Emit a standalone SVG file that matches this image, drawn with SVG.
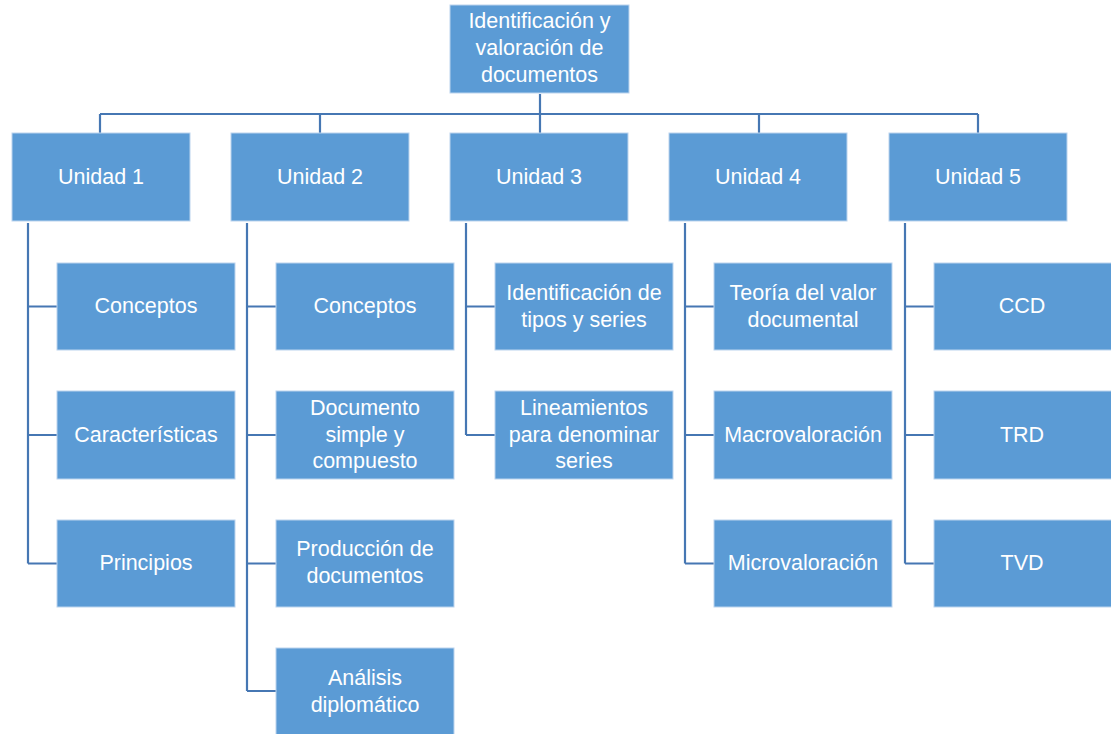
<svg xmlns="http://www.w3.org/2000/svg" width="1111" height="734" viewBox="0 0 1111 734">
<style>
.box{fill:#5b9bd5;stroke:#bcd4ee;stroke-width:1}
.t{font-family:"Liberation Sans",Arial,sans-serif;font-size:21.5px;fill:#ffffff;text-anchor:middle;dominant-baseline:central}
.c{fill:none;stroke:#4677b3;stroke-width:2.2}
</style>
<rect width="1111" height="734" fill="#ffffff"/>
<g id="connectors" class="c">
<path d="M540 94V114M100 114H978M100 114V133M320 114V133M540 114V133M759 114V133M978 114V133"/>
<path d="M28 223V563.5M28 306.5H57M28 435H57M28 563.5H57"/>
<path d="M247 223V691M247 306.5H276M247 435H276M247 563.5H276M247 691H276"/>
<path d="M466 223V435M466 306.5H495M466 435H495"/>
<path d="M685 223V563.5M685 306.5H714M685 435H714M685 563.5H714"/>
<path d="M905 223V563.5M905 306.5H934M905 435H934M905 563.5H934"/>
</g>
<g id="root"><rect class="box" x="450" y="5" width="179" height="88"/><text class="t" x="539.5" y="21">Identificación y</text><text class="t" x="539.5" y="48">valoración de</text><text class="t" x="539.5" y="75">documentos</text></g>
<g id="u1"><rect class="box" x="12" y="133" width="178" height="88"/><text class="t" x="101" y="177">Unidad 1</text></g>
<g id="u2"><rect class="box" x="231" y="133" width="178" height="88"/><text class="t" x="320" y="177">Unidad 2</text></g>
<g id="u3"><rect class="box" x="450" y="133" width="178" height="88"/><text class="t" x="539" y="177">Unidad 3</text></g>
<g id="u4"><rect class="box" x="669" y="133" width="178" height="88"/><text class="t" x="758" y="177">Unidad 4</text></g>
<g id="u5"><rect class="box" x="889" y="133" width="178" height="88"/><text class="t" x="978" y="177">Unidad 5</text></g>
<g id="u1c1"><rect class="box" x="57" y="263" width="178" height="87"/><text class="t" x="146" y="306">Conceptos</text></g>
<g id="u1c2"><rect class="box" x="57" y="391" width="178" height="88"/><text class="t" x="146" y="435">Características</text></g>
<g id="u1c3"><rect class="box" x="57" y="520" width="178" height="87"/><text class="t" x="146" y="563">Principios</text></g>
<g id="u2c1"><rect class="box" x="276" y="263" width="178" height="87"/><text class="t" x="365" y="306">Conceptos</text></g>
<g id="u2c2"><rect class="box" x="276" y="391" width="178" height="88"/><text class="t" x="365" y="408">Documento</text><text class="t" x="365" y="435">simple y</text><text class="t" x="365" y="461">compuesto</text></g>
<g id="u2c3"><rect class="box" x="276" y="520" width="178" height="87"/><text class="t" x="365" y="549">Producción de</text><text class="t" x="365" y="576">documentos</text></g>
<g id="u2c4"><rect class="box" x="276" y="648" width="178" height="88"/><text class="t" x="365" y="678">Análisis</text><text class="t" x="365" y="705">diplomático</text></g>
<g id="u3c1"><rect class="box" x="495" y="263" width="178" height="87"/><text class="t" x="584" y="293">Identificación de</text><text class="t" x="584" y="320">tipos y series</text></g>
<g id="u3c2"><rect class="box" x="495" y="391" width="178" height="88"/><text class="t" x="584" y="408">Lineamientos</text><text class="t" x="584" y="435">para denominar</text><text class="t" x="584" y="461">series</text></g>
<g id="u4c1"><rect class="box" x="714" y="263" width="178" height="87"/><text class="t" x="803" y="293">Teoría del valor</text><text class="t" x="803" y="320">documental</text></g>
<g id="u4c2"><rect class="box" x="714" y="391" width="178" height="88"/><text class="t" x="803" y="435">Macrovaloración</text></g>
<g id="u4c3"><rect class="box" x="714" y="520" width="178" height="87"/><text class="t" x="803" y="563">Microvaloración</text></g>
<g id="u5c1"><rect class="box" x="934" y="263" width="178" height="87"/><text class="t" x="1022" y="306">CCD</text></g>
<g id="u5c2"><rect class="box" x="934" y="391" width="178" height="88"/><text class="t" x="1022" y="435">TRD</text></g>
<g id="u5c3"><rect class="box" x="934" y="520" width="178" height="87"/><text class="t" x="1022" y="563">TVD</text></g>
</svg>
